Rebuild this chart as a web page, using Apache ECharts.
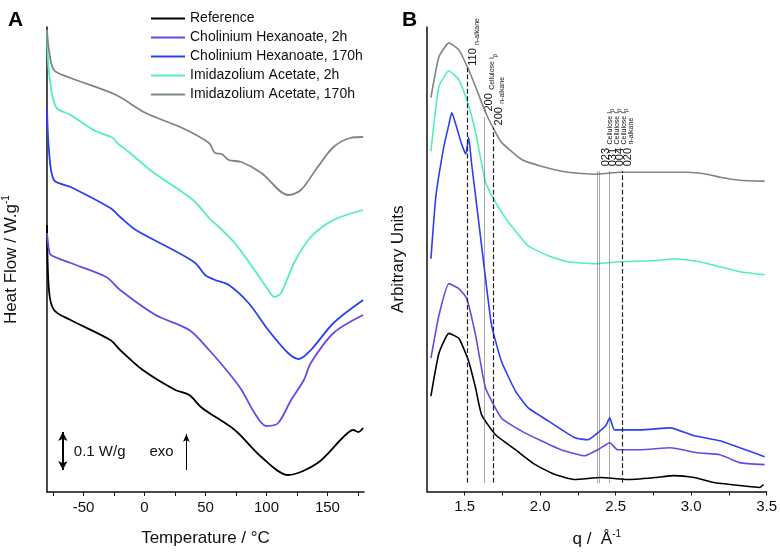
<!DOCTYPE html>
<html>
<head>
<meta charset="utf-8">
<script src="https://cdn.jsdelivr.net/npm/echarts@6/dist/echarts.min.js"></script>
<style>
html, body { margin: 0; padding: 0; background: #fff; }
#chart { width: 780px; height: 553px; }
</style>
</head>
<body>
<div id="chart"></div>
<script>
// ---- data (y values are arbitrary offset units) ----
var seriesNames = ['Reference', 'Cholinium Hexanoate, 2h', 'Cholinium Hexanoate, 170h',
                   'Imidazolium Acetate, 2h', 'Imidazolium Acetate, 170h'];
var seriesColors = ['#000000', '#6b48e6', '#2b3ff5', '#52f0b4', '#7a8789'];

// A: DSC, [temperature °C, heat flow (offset)]
var dscRef = [[-80,267],[-78.4,202],[-74.3,182],[-60.6,172],[-28.1,152],[-20,142],[-1.4,122],
  [25.3,102],[36.7,97],[47.2,84],[74,62],[95.9,35],[117.7,17],[142,29],[163.1,55],[171.2,62],
  [175.3,60],[179.3,64]];
var dscCh2h = [[-80,259],[-78.4,242],[-76.8,237],[-60.6,229],[-31.4,215],[-20,202],[9.1,177],
  [36.7,162],[52.9,142],[69.1,119],[79.6,102],[90.2,79],[99.9,66],[109.6,69],[120.2,92],
  [130.7,112],[136.4,129],[155,159],[179.3,177]];
var dscCh170h = [[-80,384],[-78.4,342],[-74.3,312],[-60.6,305],[-28.1,284],[-20,275],[-7.1,262],
  [20.5,244],[41.6,229],[49.7,217],[57.8,212],[69.1,207],[85.3,189],[101.5,162],[117.7,139],
  [126.6,133],[136.4,142],[155,169],[179.3,192]];
var dscIm2h = [[-80,462],[-78.4,420],[-72.7,385],[-60.6,377],[-41.9,362],[-25.7,354],[-23.3,350],
  [-11.9,339],[6.7,320],[31,300],[41.6,290],[52.9,274],[61,265],[74,249],[90.2,222],[101.5,202],
  [106.4,195],[112,199],[122.6,229],[136.4,255],[155,272],[179.3,282]];
var dscIm170h = [[-80,462],[-78.4,442],[-74.3,422],[-60.6,414],[-23.3,397],[1,379],[31,364],
  [52.9,349],[57.8,339],[63.4,338],[69.1,332],[79.6,330],[95.9,319],[117.7,297],[128.3,302],
  [142,325],[155,345],[168.8,354],[179.3,355]];

// B: scattering, [q Å-1, intensity (offset)]
var saxsRef = [[1.276,96],[1.329,139],[1.395,159],[1.461,154],[1.526,131],[1.572,104],[1.612,77],
  [1.704,57],[1.836,42],[1.967,27],[2.099,17],[2.23,12],[2.401,14],[2.579,12],[2.757,14],
  [2.888,16],[3.02,14],[3.151,9],[3.322,6],[3.454,4],[3.48,7]];
var saxsCh2h = [[1.276,134],[1.329,177],[1.395,209],[1.461,204],[1.513,194],[1.572,157],[1.638,104],
  [1.743,74],[1.875,61],[2.007,51],[2.138,42],[2.296,36],[2.382,42],[2.461,49],[2.513,42],
  [2.664,42],[2.862,44],[3.039,39],[3.191,37],[3.322,29],[3.487,27]];
var saxsCh170h = [[1.276,234],[1.309,297],[1.362,347],[1.395,369],[1.414,381],[1.441,369],[1.48,349],
  [1.507,339],[1.526,356],[1.546,329],[1.572,297],[1.638,214],[1.678,167],[1.743,131],[1.836,101],
  [1.921,84],[2.053,71],[2.23,54],[2.316,52],[2.382,59],[2.434,66],[2.461,74],[2.493,62],
  [2.664,62],[2.862,64],[3.02,56],[3.191,51],[3.322,44],[3.487,35]];
var saxsIm2h = [[1.276,342],[1.329,407],[1.395,423],[1.461,414],[1.52,391],[1.572,361],[1.638,311],
  [1.704,291],[1.789,271],[1.921,247],[2.053,237],[2.184,231],[2.362,229],[2.533,231],[2.757,232],
  [2.888,234],[3.059,231],[3.191,226],[3.322,221],[3.487,218]];
var saxsIm170h = [[1.276,396],[1.329,437],[1.395,451],[1.461,444],[1.52,426],[1.572,407],[1.638,381],
  [1.704,361],[1.743,351],[1.875,334],[2.007,327],[2.184,321],[2.362,319],[2.533,321],[2.757,321],
  [2.974,321],[3.105,319],[3.191,316],[3.322,313],[3.487,312]];

// reflections in B: q position, top of the guide line, dashed (n-alkane) or dotted (cellulose)
var peakQ    = [1.52, 1.63, 1.69, 2.375, 2.39, 2.455, 2.545];
var peakTop  = [426, 376, 366, 322, 322, 322, 322];
var peakType = ['dashed', 'dotted', 'dashed', 'dotted', 'dotted', 'dotted', 'dashed'];
var peakHkl  = ['110', '200', '200', '023', '031', '004', '020'];
var peakPhase = ['n', 'c', 'n', 'c', 'c', 'c', 'n'];
var peakLabelQ = [1.546, 1.651, 1.717, 2.428, 2.475, 2.521, 2.572];
var peakLabelH = [428, 382, 368, 327, 327, 327, 327];

var xTicksA = [-75, -50, -25, 0, 25, 50, 75, 100, 125, 150, 175];
var xLabelsA = [-50, 0, 50, 100, 150];
var xTicksB = [1.5, 1.75, 2.0, 2.25, 2.5, 2.75, 3.0, 3.25, 3.5];
var xLabelsB = [1.5, 2.0, 2.5, 3.0, 3.5];

var FONT = '"Liberation Sans", Arial, sans-serif';
var dom = document.getElementById('chart');
var myChart = echarts.init(dom);

function xAxisCfg(idx, min, max, ticks, labels, name, fmt) {
    return {
        type: 'value', gridIndex: idx, min: min, max: max,
        name: name, nameLocation: 'middle', nameGap: 38,
        nameTextStyle: { fontFamily: FONT, fontSize: 17, color: '#111',
            rich: { sup: { fontFamily: FONT, fontSize: 10, color: '#111', verticalAlign: 'top', padding: [0, 0, 10, 0] } } },
        axisLine: { show: true, onZero: false, lineStyle: { color: '#111', width: 1.5 } },
        axisTick: { show: true, inside: false, length: 4, customValues: ticks, lineStyle: { color: '#111', width: 1 } },
        axisLabel: { customValues: labels, margin: 8, fontFamily: FONT, fontSize: 15, color: '#111', formatter: fmt },
        splitLine: { show: false }
    };
}
function yAxisCfg(idx, max, name, gap) {
    return {
        type: 'value', gridIndex: idx, min: 0, max: max,
        name: name, nameLocation: 'middle', nameGap: gap,
        nameTextStyle: { fontFamily: FONT, fontSize: 17, color: '#111',
            rich: { sup: { fontFamily: FONT, fontSize: 10, color: '#111', verticalAlign: 'top', padding: [0, 0, 10, 0] } } },
        axisLine: { show: true, onZero: false, lineStyle: { color: '#111', width: 1.5 } },
        axisTick: { show: false },
        axisLabel: { show: false },
        splitLine: { show: false }
    };
}

var dscData = [dscRef, dscCh2h, dscCh170h, dscIm2h, dscIm170h];
var saxsData = [saxsRef, saxsCh2h, saxsCh170h, saxsIm2h, saxsIm170h];
var series = [];
for (var i = 0; i < 5; i++) {
    series.push({
        name: seriesNames[i], type: 'line', xAxisIndex: 0, yAxisIndex: 0,
        data: dscData[i], showSymbol: false, smooth: 0.3,
        lineStyle: { color: seriesColors[i], width: 1.8 }, itemStyle: { color: seriesColors[i] }
    });
}
for (var j = 0; j < 5; j++) {
    series.push({
        name: seriesNames[j], type: 'line', xAxisIndex: 1, yAxisIndex: 1,
        data: saxsData[j], showSymbol: false, smooth: 0.15,
        lineStyle: { color: seriesColors[j], width: 1.6 }, itemStyle: { color: seriesColors[j] }
    });
}

// guide lines for the reflections
var guides = peakQ.map(function (q, k) {
    return [
        { coord: [q, 9], lineStyle: { type: peakType[k], color: peakType[k] === 'dashed' ? '#222' : '#555', width: peakType[k] === 'dashed' ? 1.2 : 1 } },
        { coord: [q, peakTop[k]] }
    ];
});
series[5].markLine = { silent: true, symbol: ['none', 'none'], label: { show: false }, data: guides, animation: false };

// scale bar and exo arrow in A
series[0].markLine = {
    silent: true, symbol: ['arrow', 'arrow'], symbolSize: [7, 9], label: { show: false }, animation: false,
    lineStyle: { color: '#000', width: 2, type: 'solid' },
    data: [[{ coord: [-67, 22] }, { coord: [-67, 60] }]]
};
series[4].markLine = {
    silent: true, symbol: ['none', 'arrow'], symbolSize: [5, 8], label: { show: false }, animation: false,
    lineStyle: { color: '#000', width: 1, type: 'solid' },
    data: [[{ coord: [34.3, 22] }, { coord: [34.3, 58] }]]
};

var option = {
    animation: false,
    backgroundColor: '#fff',
    legend: {
        data: seriesNames, orient: 'vertical', left: 146, top: 4,
        icon: 'rect', itemWidth: 34, itemHeight: 2, itemGap: 0,
        textStyle: { fontFamily: FONT, fontSize: 14, color: '#111', lineHeight: 19 },
        selectedMode: false
    },
    grid: [
        { left: 43, top: 27, width: 321, height: 465 },
        { left: 427, top: 27, width: 342, height: 467 }
    ],
    xAxis: [
        xAxisCfg(0, -80, 180, xTicksA, xLabelsA, 'Temperature / °C', function (v) { return v; }),
        xAxisCfg(1, 1.25, 3.5, xTicksB, xLabelsB, 'q /  Å{sup|-1}', function (v) { return v.toFixed(1); })
    ],
    yAxis: [
        yAxisCfg(0, 465, 'Heat Flow / W.g{sup|-1}', 26),
        yAxisCfg(1, 467, 'Arbitrary Units', 20)
    ],
    series: series
};
myChart.setOption(option);

// text annotations placed through the axes
function px(gi, pt) {
    return myChart.convertToPixel({ xAxisIndex: gi, yAxisIndex: gi }, pt);
}
var graphics = [];
graphics.push({ type: 'text', left: 8, top: 10, style: { text: 'A', fontFamily: FONT, fontSize: 21, fontWeight: 'bold', fill: '#000' } });
graphics.push({ type: 'text', left: 402, top: 10, style: { text: 'B', fontFamily: FONT, fontSize: 21, fontWeight: 'bold', fill: '#000' } });
var p1 = px(0, [-58, 40]);
graphics.push({ type: 'text', x: p1[0], y: p1[1], style: { text: '0.1 W/g', fontFamily: FONT, fontSize: 15, fill: '#111', align: 'left', verticalAlign: 'middle' } });
var p2 = px(0, [4, 40]);
graphics.push({ type: 'text', x: p2[0], y: p2[1], style: { text: 'exo', fontFamily: FONT, fontSize: 15, fill: '#111', align: 'left', verticalAlign: 'middle' } });

var richLab = {
    m: { fontFamily: FONT, fontSize: 11, fill: '#111', verticalAlign: 'bottom', lineHeight: 13 },
    s: { fontFamily: FONT, fontSize: 7, fill: '#111', verticalAlign: 'bottom', lineHeight: 13, padding: [0, 0, -2, 0] },
    b: { fontFamily: FONT, fontSize: 6, fill: '#111', verticalAlign: 'bottom', lineHeight: 13, padding: [0, 0, -4, 0] }
};
peakQ.forEach(function (q, k) {
    var p = px(1, [peakLabelQ[k], peakLabelH[k]]);
    var txt = '{m|' + peakHkl[k] + '} ' + (peakPhase[k] === 'n' ? '{s|n-alkane}' : '{s|Cellulose I}{b|β}');
    graphics.push({
        type: 'text', x: p[0], y: p[1], rotation: Math.PI / 2,
        style: { text: txt, rich: richLab, align: 'left', verticalAlign: 'middle' }
    });
});
myChart.setOption({ graphic: graphics });
</script>
</body>
</html>
